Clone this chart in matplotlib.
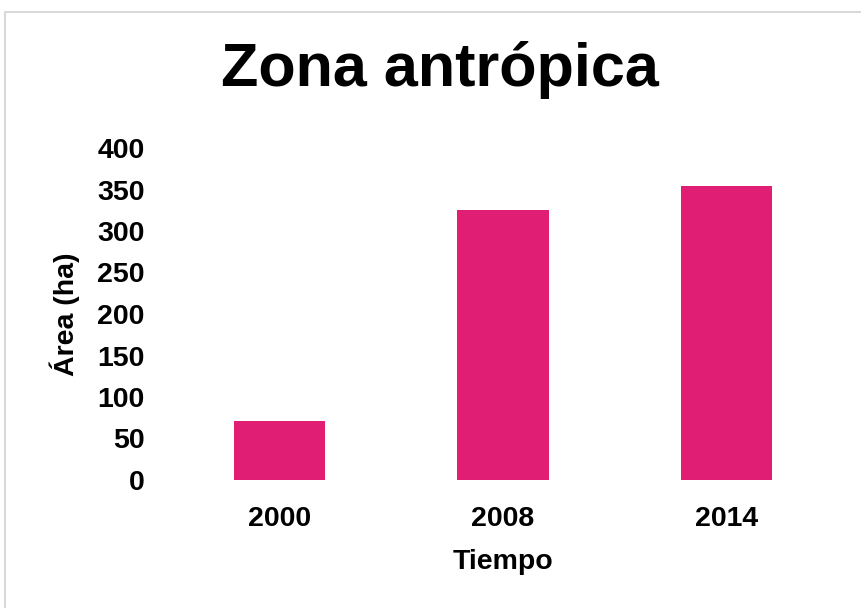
import matplotlib
matplotlib.use("Agg")
import matplotlib.pyplot as plt
from matplotlib.patches import Rectangle

categories = ["2000", "2008", "2014"]
values = [71, 325, 354]
yticks = [0, 50, 100, 150, 200, 250, 300, 350, 400]

plt.rcParams['font.family'] = ['Liberation Sans', 'DejaVu Sans']

fig = plt.figure(figsize=(8.61, 6.08), dpi=100)
ax = fig.add_axes([168 / 861, 1 - 480 / 608, (838 - 168) / 861, (480 - 148) / 608])

ax.bar(categories, values, width=0.41, color="#E01E74")
ax.set_ylim(0, 400)
ax.set_xlim(-0.5, 2.5)
ax.set_yticks(yticks)
for s in ax.spines.values():
    s.set_visible(False)
ax.tick_params(axis='both', length=0, labelsize=20.5)
ax.tick_params(axis='y', pad=17)
ax.tick_params(axis='x', pad=19)
for lab in ax.get_xticklabels() + ax.get_yticklabels():
    lab.set_fontweight('bold')

ax.set_xlabel("Tiempo", fontsize=20.5, fontweight='bold', labelpad=12)
ax.set_ylabel("Área (ha)", fontsize=20.5, fontweight='bold', labelpad=12)

fig.text(440 / 861, 1 - 70 / 608, "Zona antrópica", fontsize=44, fontweight='bold',
         ha='center', va='center')

fig.patches.append(Rectangle((5 / 861, -0.05), 1.2, 1.05 - 12 / 608, transform=fig.transFigure,
                             fill=False, edgecolor="#d9d9d9", linewidth=1.5))

fig.savefig("out.png", dpi=100)
